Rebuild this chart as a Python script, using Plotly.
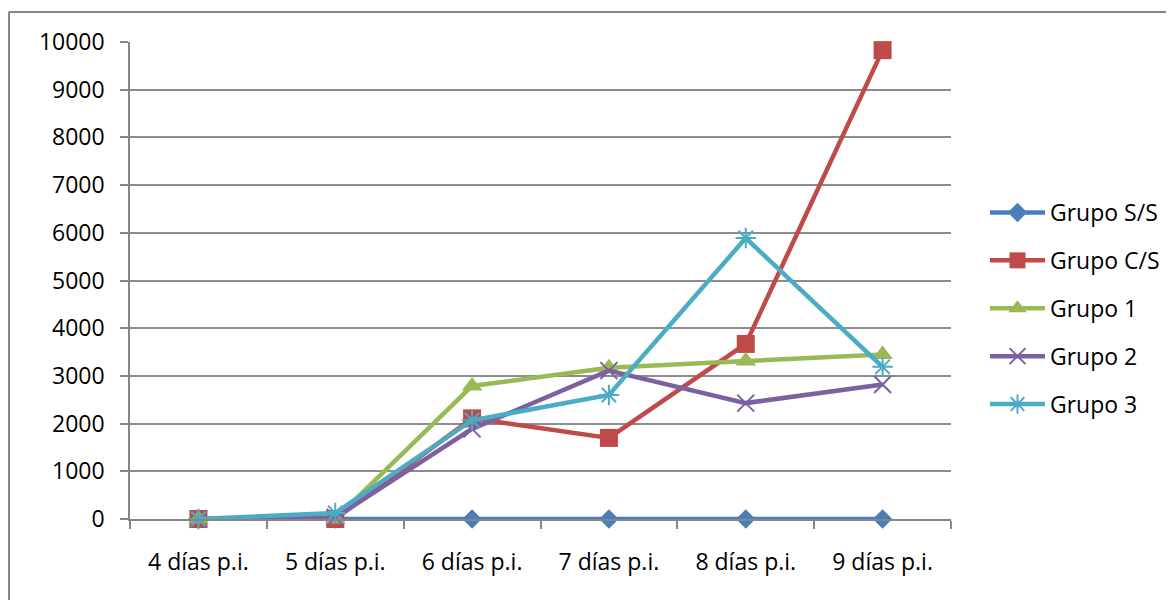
import plotly.graph_objects as go

categories = ["4 días p.i.", "5 días p.i.", "6 días p.i.", "7 días p.i.", "8 días p.i.", "9 días p.i."]
grupo_ss = [0, 0, 0, 0, 0, 0]
grupo_cs = [0, 0, 2110, 1700, 3670, 9830]
grupo_1 = [0, 0, 2790, 3170, 3310, 3450]
grupo_2 = [0, 30, 1890, 3110, 2430, 2820]
grupo_3 = [0, 125, 2070, 2600, 5890, 3190]
y_ticks = [0, 1000, 2000, 3000, 4000, 5000, 6000, 7000, 8000, 9000, 10000]
y_tick_labels = [str(v) for v in y_ticks]

series = [
    ("Grupo S/S", grupo_ss, "#4A7EBB", "diamond", 15, 0),
    ("Grupo C/S", grupo_cs, "#BE4B48", "square", 18, 0),
    ("Grupo 1", grupo_1, "#98B954", "triangle-up", 18, 0),
    ("Grupo 2", grupo_2, "#7D60A0", "x-thin-open", 17, 2),
    ("Grupo 3", grupo_3, "#4BACC6", "asterisk-open", 17, 2),
]

fig = go.Figure()
for name, vals, color, sym, size, mlw in series:
    fig.add_trace(go.Scatter(
        x=categories, y=vals, name=name, mode="lines+markers", legendgroup=name,
        line=dict(color=color, width=4.5),
        marker=dict(symbol=sym, size=size, color=color, line=dict(color=color, width=mlw)),
        cliponaxis=False,
    ))

FONT = "Open Sans"
OFF = 8  # page body offset
W, H = 1174 - OFF, 600 - OFF
L, R, T, B = 130 - OFF, 951 - OFF, 42 - OFF, 519 - OFF
pw, ph = R - L, B - T

def px_x(p):
    return (p - L) / pw

def px_y(p):
    return (B - p) / ph

fig.update_layout(
    width=W, height=H,
    margin=dict(l=L, r=W - R, t=T, b=H - B, pad=0, autoexpand=False),
    paper_bgcolor="white", plot_bgcolor="white",
    font=dict(family=FONT, size=23, color="black"),
    showlegend=True,
    legend=dict(
        xref="container", yref="container",
        x=(985 - OFF) / W, y=1 - (191 - OFF) / H, xanchor="left", yanchor="top",
        font=dict(family=FONT, size=23, color="black"),
        tracegroupgap=15, itemwidth=55, bgcolor="rgba(0,0,0,0)",
    ),
    xaxis=dict(
        type="category", range=[-0.5, len(categories) - 0.5], autorange=False,
        showgrid=False, showline=True, linecolor="#868686", linewidth=1.5,
        ticks="outside", tickson="boundaries", ticklen=8, tickcolor="#868686", tickwidth=1.5,
        ticklabelstandoff=22,
        zeroline=False,
    ),
    yaxis=dict(
        range=[0, 10000], tickvals=y_ticks, ticktext=y_tick_labels,
        showgrid=True, gridcolor="#8C8C8C", gridwidth=1.5,
        showline=True, linecolor="#868686", linewidth=1.5,
        ticks="outside", ticklen=8, tickcolor="#868686", tickwidth=1.5,
        ticklabelstandoff=11, zeroline=False,
    ),
    shapes=[
        dict(type="line", xref="paper", yref="paper", x0=px_x(1), x1=px_x(W + 20), y0=px_y(4), y1=px_y(4),
             line=dict(color="#868686", width=2)),
        dict(type="line", xref="paper", yref="paper", x0=px_x(1), x1=px_x(1), y0=px_y(4), y1=px_y(H + 5),
             line=dict(color="#868686", width=2)),
    ],
)

fig.write_html("out.html")
